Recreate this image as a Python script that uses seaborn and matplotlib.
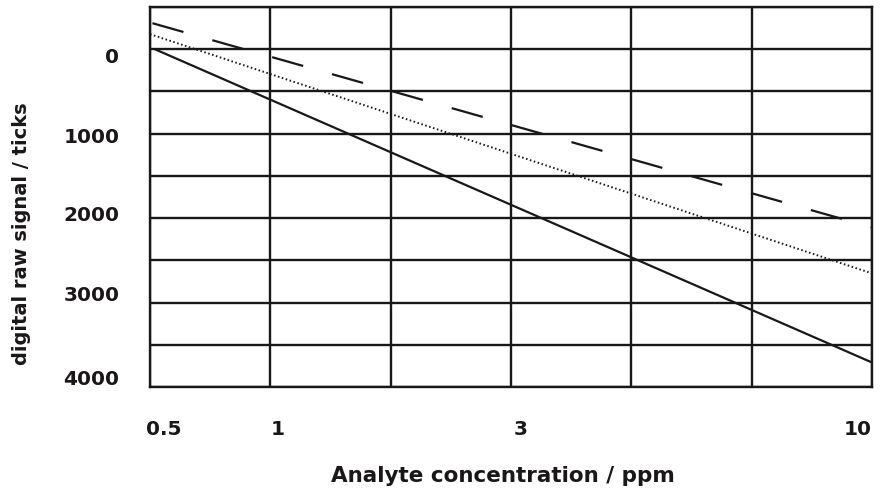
import matplotlib
matplotlib.use("Agg")
import matplotlib.pyplot as plt
import seaborn as sns
import pandas as pd

# Data (x in grid-cell units along the schematic log axis, y = raw signal ticks)
series_names = ["solid", "dashed", "dotted"]
solid_x = [0.04, 6.0]
solid_y = [0, 3710]
dashed_x = [0.02, 6.0]
dashed_y = [-308, 2110]
dotted_x = [0.0, 6.0]
dotted_y = [-178, 2655]

x_tick_labels = ["0.5", "1", "3", "10"]
x_tick_pos = [0.11, 1.06, 3.08, 5.88]
y_tick_labels = ["0", "1000", "2000", "3000", "4000"]
y_tick_pos = [71, 1019, 1943, 2891, 3886]

df = pd.concat([
    pd.DataFrame({"pos": solid_x, "signal": solid_y, "series": "solid"}),
    pd.DataFrame({"pos": dashed_x, "signal": dashed_y, "series": "dashed"}),
    pd.DataFrame({"pos": dotted_x, "signal": dotted_y, "series": "dotted"}),
])

sns.set_theme(style="white")
plt.rcParams["font.family"] = ["DejaVu Sans Condensed", "DejaVu Sans"]
ink = "#1a1718"
plt.rcParams["text.color"] = ink
plt.rcParams["xtick.color"] = ink
plt.rcParams["ytick.color"] = ink

fig = plt.figure(figsize=(8.81, 4.95), dpi=100)
ax = fig.add_axes([0.1703, 0.2182, 0.8195, 0.7677])

styles = {
    "solid": dict(lw=1.6, dashes=None),
    "dashed": dict(lw=1.6, dashes=(14.5, 13.5)),
    "dotted": dict(lw=1.4, dashes=(0.8, 1.3)),
}
for name in series_names:
    sub = df[df["series"] == name]
    st = styles[name]
    sns.lineplot(data=sub, x="pos", y="signal", ax=ax, color=ink,
                 lw=st["lw"], legend=False, estimator=None, sort=False)
    ln = ax.lines[-1]
    if st["dashes"]:
        ln.set_dashes(st["dashes"])
        ln.set_dash_capstyle("butt")

ax.set_xlim(0, 6)
ax.set_ylim(4000, -500)

# grid on minor ticks (uniform cells)
ax.set_xticks(range(0, 7), minor=True)
ax.set_yticks(range(-500, 4001, 500), minor=True)
ax.grid(False)
ax.grid(which="minor", color=ink, lw=1.7)
ax.set_axisbelow(True)

ax.set_xticks(x_tick_pos)
ax.set_xticklabels(x_tick_labels, fontsize=14.5, fontweight="bold",
                   family=["DejaVu Sans"])
ax.set_yticks(y_tick_pos)
ax.set_yticklabels(y_tick_labels, fontsize=14.5, fontweight="bold",
                   family=["DejaVu Sans"])
ax.tick_params(which="both", length=0)
ax.tick_params(axis="x", pad=24)
ax.tick_params(axis="y", pad=22)

for sp in ax.spines.values():
    sp.set_color(ink)
    sp.set_linewidth(1.7)

ax.set_xlabel("")
ax.set_ylabel("")
fig.text(503 / 881, 1 - 476 / 495, "Analyte concentration / ppm", fontsize=15.5,
         fontweight="bold", ha="center", va="center")
fig.text(22 / 881, 1 - 234 / 495, "digital raw signal / ticks", fontsize=14,
         fontweight="bold", ha="center", va="center", rotation=90)

fig.savefig("out.png", dpi=100)
